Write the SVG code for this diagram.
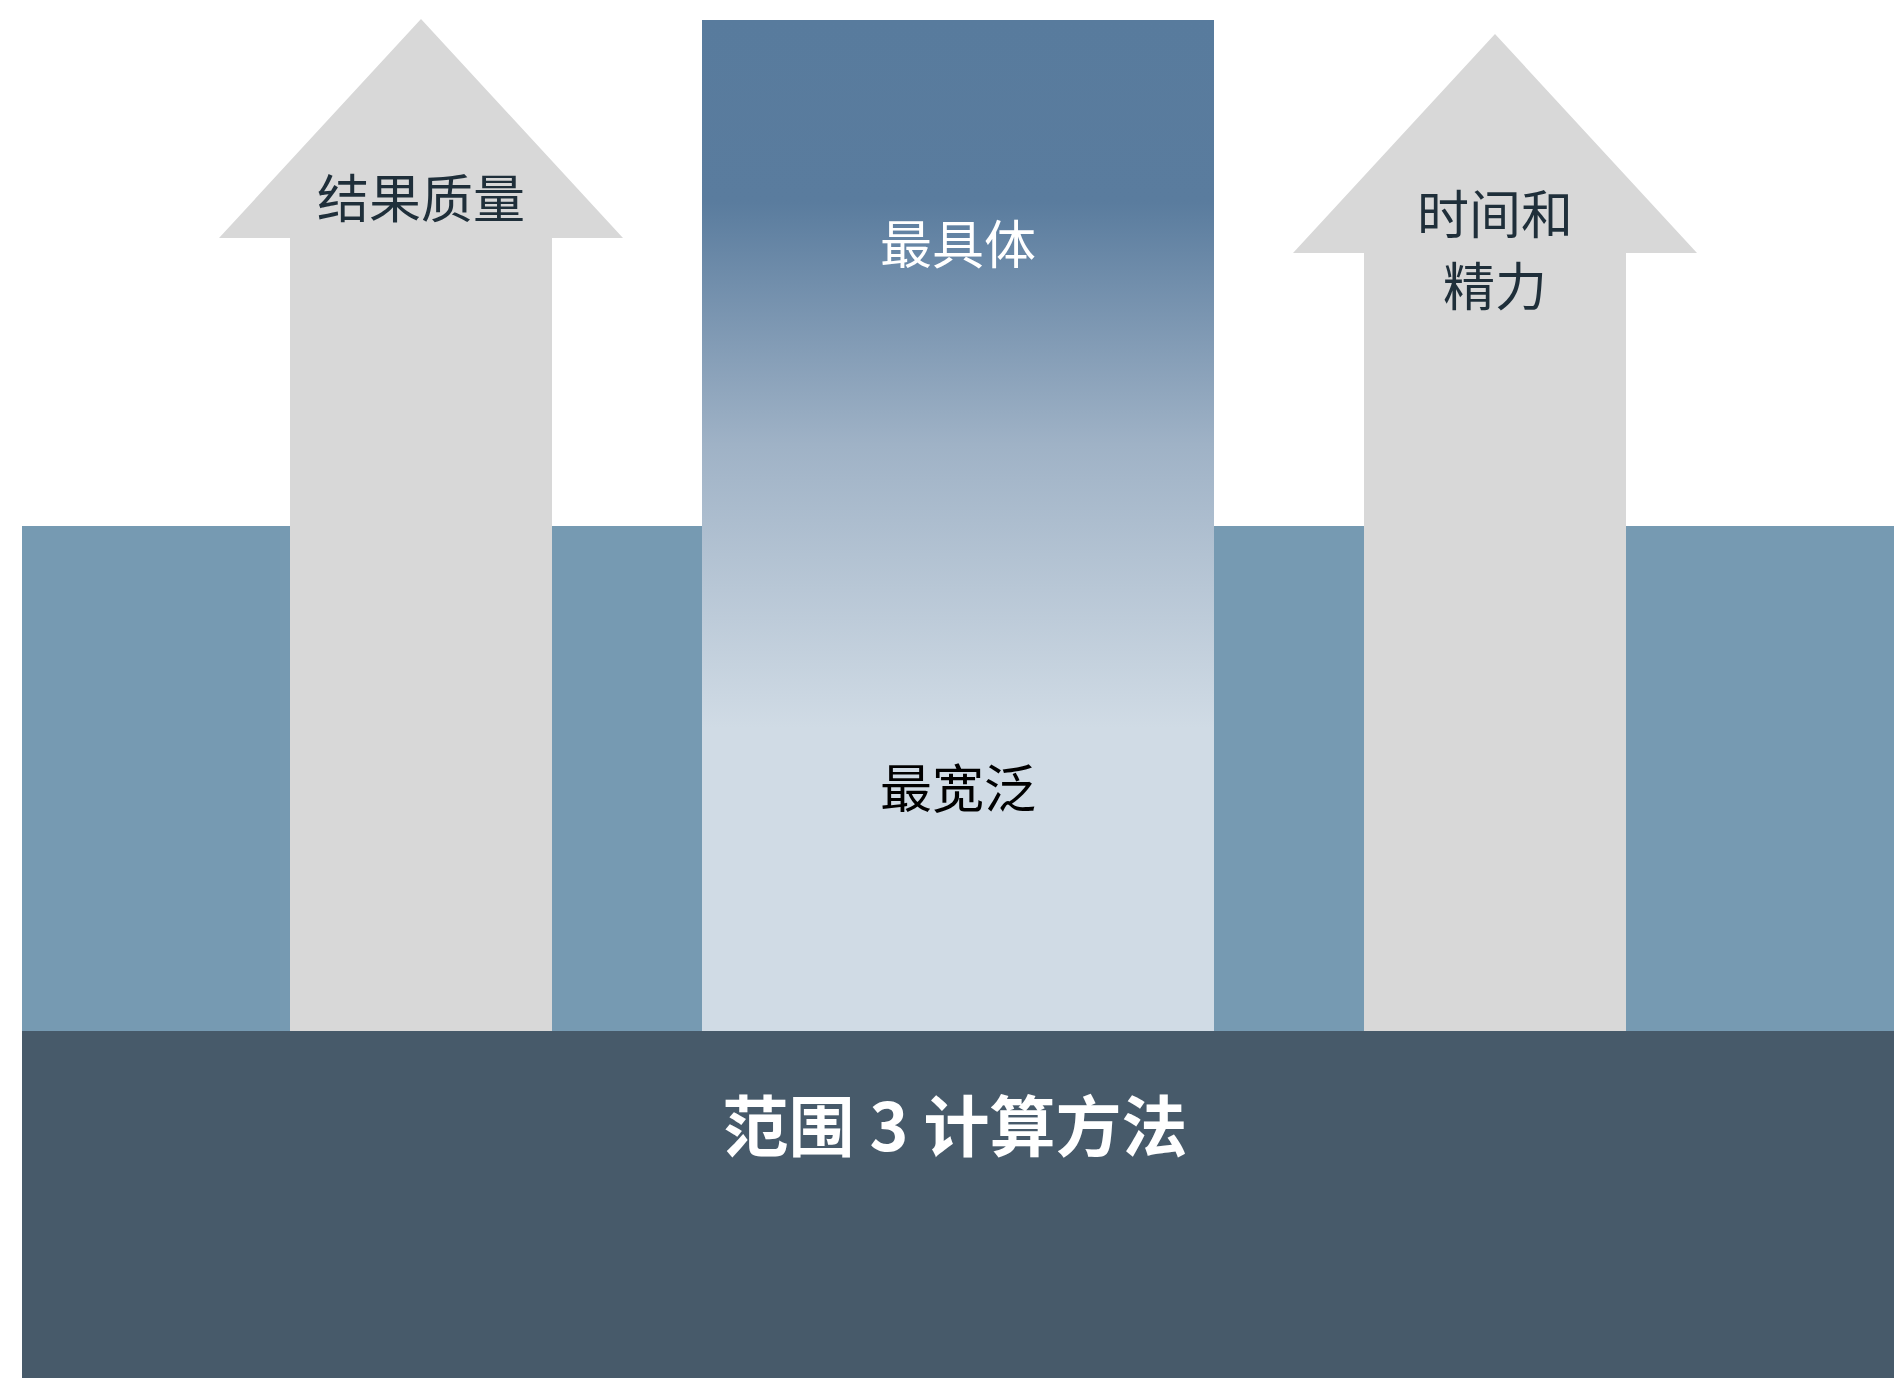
<svg xmlns="http://www.w3.org/2000/svg" width="1894" height="1378" viewBox="0 0 1894 1378">
<defs>
<linearGradient id="cg" x1="0" y1="20" x2="0" y2="1031" gradientUnits="userSpaceOnUse">
<stop offset="0" stop-color="#587b9d"/>
<stop offset="0.18" stop-color="#5a7c9e"/>
<stop offset="0.42" stop-color="#9fb2c6"/>
<stop offset="0.70" stop-color="#d0dbe5"/>
<stop offset="1" stop-color="#d0dbe5"/>
</linearGradient>
<style>
text{font-family:"Noto Sans CJK SC","Noto Sans",sans-serif;text-anchor:middle}
.lbl{font-size:52px;fill:#1f2f3a}
.arrow{fill:#d8d8d8}
</style>
</defs>
<rect x="22" y="526" width="1872" height="505" fill="#769ab2"/>
<g id="quality">
<polygon class="arrow" points="421,19 623,238 552,238 552,1031 290,1031 290,238 219,238"/>
<text class="lbl" x="421" y="218">结果质量</text>
</g>
<g id="scale">
<rect x="702" y="20" width="512" height="1011" fill="url(#cg)"/>
<text x="958" y="264" font-size="52" fill="#ffffff">最具体</text>
<text x="958" y="808" font-size="52" fill="#000000">最宽泛</text>
</g>
<g id="effort">
<polygon class="arrow" points="1495,34 1697,253 1626,253 1626,1031 1364,1031 1364,253 1293,253"/>
<text class="lbl" x="1495" y="234">时间和</text>
<text class="lbl" x="1495" y="306">精力</text>
</g>
<g id="base">
<rect x="22" y="1031" width="1872" height="347" fill="#475a6a"/>
<text x="955" y="1151" font-size="66" font-weight="bold" fill="#ffffff">范围 3 计算方法</text>
</g>
<g id="connectors"/>
</svg>
